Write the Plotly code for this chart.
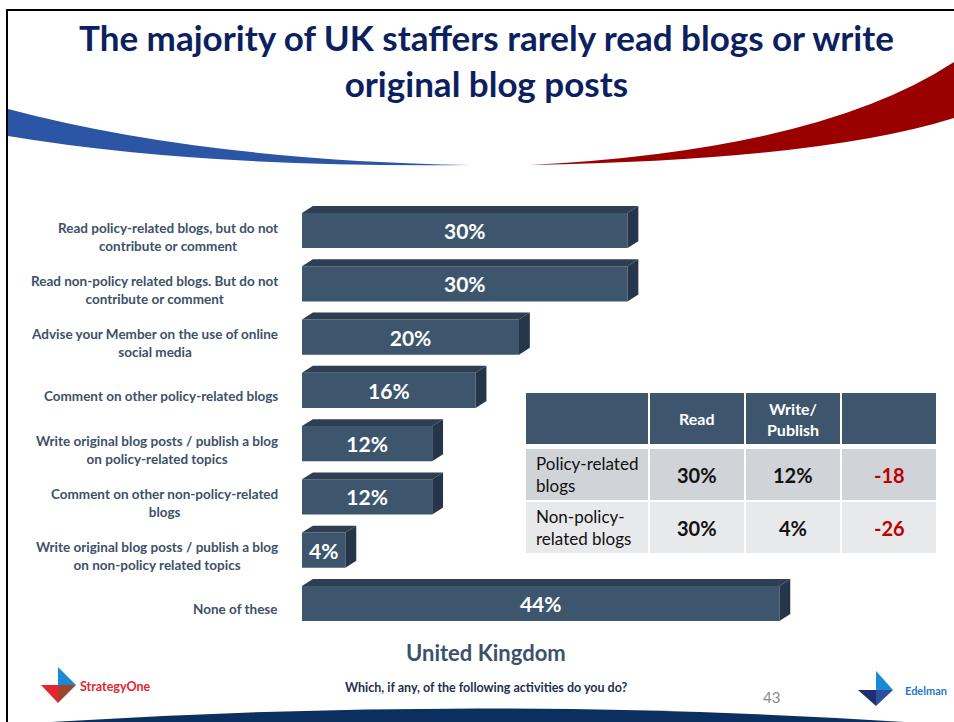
import plotly.graph_objects as go

W, H = 954, 722
FONT = "Lato"
BAR_FRONT = "#3d566e"
BAR_TOP = "#2e3f53"
BAR_SIDE = "#26364a"
LABEL_COL = "#3d5168"

categories = [
    "Read policy-related blogs, but do not<br>contribute or comment",
    "Read non-policy related blogs. But do not<br>contribute or comment",
    "Advise your Member on the use of online<br>social media",
    "Comment on other policy-related blogs",
    "Write original blog posts / publish a blog<br>on policy-related topics",
    "Comment on other non-policy-related<br>blogs",
    "Write original blog posts / publish a blog<br>on non-policy related topics",
    "None of these",
]
values = [30, 30, 20, 16, 12, 12, 4, 44]

table_header = ["", "Read", "Write/<br>Publish", ""]
table_rows = ["Policy-related<br>blogs", "Non-policy-<br>related blogs"]
read_vals = [30, 30]
write_vals = [12, 4]
gap_vals = [-18, -26]


def px(x):
    return x / W


def py(y):
    return 1 - y / H


def note(x, y, text, size, color, xanchor="center", align="center"):
    return dict(x=px(x), y=py(y), xref="paper", yref="paper", text=text,
                showarrow=False, xanchor=xanchor, yanchor="middle", align=align,
                font=dict(family=FONT, size=size, color=color))


# bar geometry (data units)
BAR_W = 0.66
DX = 1.0     # depth to the right, in %
DY = 0.13    # depth upward, in category units

pos = list(range(len(values)))

fig = go.Figure()
fig.add_trace(go.Bar(
    x=values, y=pos, orientation="h", width=BAR_W,
    marker=dict(color=BAR_FRONT, line=dict(width=0)),
    text=[f"{v}%" for v in values], textposition="inside",
    insidetextanchor="middle", constraintext="none", textangle=0,
    textfont=dict(family=FONT, size=21, color="white", weight="bold"),
    hoverinfo="skip",
))

# 3D faces built from the same values
top_x, top_y, side_x, side_y = [], [], [], []
for i, v in zip(pos, values):
    t = i - BAR_W / 2
    b = i + BAR_W / 2
    top_x += [0, v, v + DX, DX, 0, None]
    top_y += [t, t, t - DY, t - DY, t, None]
    side_x += [v, v + DX, v + DX, v, v, None]
    side_y += [t, t - DY, b - DY, b, t, None]

fig.add_trace(go.Scatter(x=top_x, y=top_y, mode="lines", fill="toself",
                         fillcolor=BAR_TOP, line=dict(width=0, color=BAR_TOP),
                         hoverinfo="skip"))
fig.add_trace(go.Scatter(x=side_x, y=side_y, mode="lines", fill="toself",
                         fillcolor=BAR_SIDE, line=dict(width=0, color=BAR_SIDE),
                         hoverinfo="skip"))

annotations = []
for i, c in zip(pos, categories):
    annotations.append(dict(
        x=px(280), xref="paper", y=i, yref="y", text=f"<b>{c}</b>",
        xanchor="right", yanchor="middle", align="center", showarrow=False,
        yshift=-6, font=dict(family=FONT, size=13.5, color=LABEL_COL),
    ))

shapes = []

# table
col_edges = [(526, 648), (650, 744), (746, 840), (842, 936)]
row_edges = [(393, 444), (449, 500), (502, 553)]
row_fill = ["#3d566e", "#d0d3d7", "#e8e9eb"]
for r, (y0, y1) in enumerate(row_edges):
    for (x0, x1) in col_edges:
        shapes.append(dict(type="rect", xref="paper", yref="paper",
                           x0=px(x0), x1=px(x1), y0=py(y1), y1=py(y0),
                           fillcolor=row_fill[r], line=dict(width=0), layer="below"))


def cell_center(c, r):
    x0, x1 = col_edges[c]
    y0, y1 = row_edges[r]
    return (x0 + x1) / 2, (y0 + y1) / 2


for c, h in enumerate(table_header):
    if h:
        cx, cy = cell_center(c, 0)
        annotations.append(note(cx, cy, f"<b>{h}</b>", 16, "white"))
for r, name in enumerate(table_rows):
    cx, cy = cell_center(0, r + 1)
    annotations.append(note(col_edges[0][0] + 8, cy, name, 17, "#111111",
                            xanchor="left", align="left"))
    cells = [(f"{read_vals[r]}%", "#111111"),
             (f"{write_vals[r]}%", "#111111"),
             (f"{gap_vals[r]}", "#c00000")]
    for c, (txt, col) in enumerate(cells, start=1):
        cx, cy = cell_center(c, r + 1)
        annotations.append(note(cx, cy, f"<b>{txt}</b>", 20, col))

# slide decoration
shapes += [
    dict(type="path", xref="paper", yref="paper",
         path=f"M {px(8)},{py(109)} Q {px(200)},{py(160)} {px(470)},{py(165)} "
              f"Q {px(200)},{py(168)} {px(8)},{py(136)} Z",
         fillcolor="#2d55a5", line=dict(width=0)),
    dict(type="path", xref="paper", yref="paper",
         path=f"M {px(530)},{py(165)} Q {px(820)},{py(150)} {px(954)},{py(62)} "
              f"L {px(954)},{py(118)} Q {px(820)},{py(160)} {px(530)},{py(165)} Z",
         fillcolor="#9b0000", line=dict(width=0)),
    dict(type="path", xref="paper", yref="paper",
         path=f"M {px(35)},{py(723)} Q {px(478)},{py(694)} {px(920)},{py(723)} Z",
         fillcolor="#0b2f5e", line=dict(width=0)),
    dict(type="line", xref="paper", yref="paper", x0=px(7), x1=px(7), y0=py(722), y1=py(10),
         line=dict(color="black", width=2)),
    dict(type="line", xref="paper", yref="paper", x0=px(6), x1=px(954), y0=py(10), y1=py(10),
         line=dict(color="black", width=2)),
]


def tri(points, color):
    p = " L ".join(f"{px(x)},{py(y)}" for x, y in points)
    return dict(type="path", xref="paper", yref="paper", path=f"M {p} Z",
                fillcolor=color, line=dict(width=0))


# StrategyOne logo
shapes += [
    tri([(58, 667), (58, 685), (76, 685)], "#1a8ad4"),
    tri([(41, 685), (58, 685), (58, 703)], "#e3262f"),
    tri([(58, 685), (76, 685), (58, 703)], "#a0432b"),
]
# Edelman logo
shapes += [
    tri([(876, 671), (876, 690), (893, 690)], "#1a8ad4"),
    tri([(858, 690), (876, 690), (876, 706)], "#1f2f6e"),
    tri([(876, 690), (893, 690), (876, 706)], "#2f4f9e"),
]

annotations += [
    note(486, 60, "<b>The majority of UK staffers rarely read blogs or write<br>original blog posts</b>",
         35, "#0c1f5e"),
    note(486, 652, "<b>United Kingdom</b>", 22, LABEL_COL),
    note(486, 687, "<b>Which, if any, of the following activities do you do?</b>", 12.5, "#1f3050"),
    note(771, 697, "43", 15, "#8a8a8a"),
    note(78, 686, "<b>StrategyOne</b>", 12.5, "#e3262f", xanchor="left"),
    note(903, 690, "<b>Edelman</b>", 11, "#1f78c8", xanchor="left"),
]

fig.update_layout(
    width=W, height=H,
    margin=dict(l=0, r=0, t=0, b=0),
    paper_bgcolor="white", plot_bgcolor="white",
    showlegend=False,
    xaxis=dict(domain=[px(302), 1.0], range=[0, (W - 302) / 10.85],
               visible=False, fixedrange=True),
    yaxis=dict(domain=[py(630.1), py(203.9)], range=[7.5, -0.5],
               visible=False, fixedrange=True),
    shapes=shapes,
    annotations=annotations,
    font=dict(family=FONT),
)

fig.write_html("out.html", config={"displayModeBar": False},
               post_script="document.body.style.margin='0px';")
